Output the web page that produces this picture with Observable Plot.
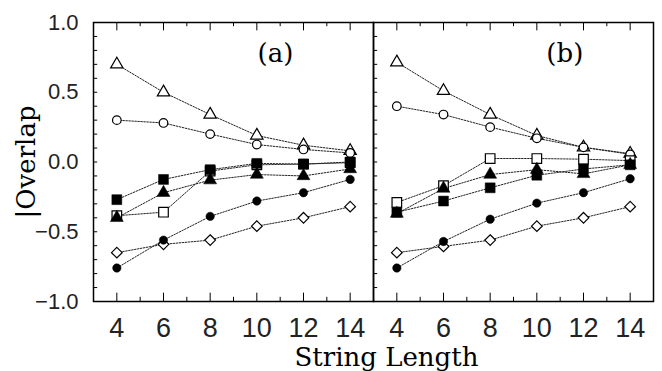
<!DOCTYPE html>
<html>
<head>
<meta charset="utf-8">
<script src="https://cdn.jsdelivr.net/npm/d3@7"></script>
<script src="https://cdn.jsdelivr.net/npm/@observablehq/plot@0.6"></script>
<style>
  html, body { margin: 0; padding: 0; background: #fff; }
  #chart svg { display: block; }
</style>
</head>
<body>
<div id="chart"></div>
<script>
// String lengths (x values)
const lengths = [4, 6, 8, 10, 12, 14];
const panels = ["a", "b"];

// Panel (a)
const a_openTriangle   = [0.70, 0.50, 0.34, 0.19, 0.12, 0.08];
const a_openCircle     = [0.30, 0.28, 0.20, 0.125, 0.09, 0.065];
const a_filledSquare   = [-0.27, -0.125, -0.055, -0.01, -0.015, 0.0];
const a_filledTriangle = [-0.40, -0.22, -0.13, -0.09, -0.10, -0.05];
const a_openSquare     = [-0.385, -0.36, -0.065, -0.02, -0.015, -0.005];
const a_filledCircle   = [-0.76, -0.56, -0.39, -0.28, -0.22, -0.125];
const a_openDiamond    = [-0.65, -0.59, -0.56, -0.46, -0.40, -0.32];

// Panel (b)
const b_openTriangle   = [0.715, 0.51, 0.34, 0.19, 0.105, 0.06];
const b_openCircle     = [0.40, 0.34, 0.25, 0.17, 0.105, 0.055];
const b_openSquare     = [-0.29, -0.17, 0.025, 0.025, 0.02, 0.01];
const b_filledTriangle = [-0.37, -0.19, -0.09, -0.055, -0.085, -0.02];
const b_filledSquare   = [-0.36, -0.28, -0.185, -0.095, -0.05, -0.02];
const b_filledCircle   = [-0.76, -0.57, -0.41, -0.295, -0.22, -0.12];
const b_openDiamond    = [-0.65, -0.605, -0.56, -0.46, -0.40, -0.32];

// Axis ticks
const yTickLabels = [-1, -0.5, 0, 0.5, 1];
const yMinorTicks = d3.range(-9, 10).map(i => i / 10);
const xMajorTicks = [4, 6, 8, 10, 12, 14];
const xMinorTicks = [5, 7, 9, 11, 13];
const panelLabels = ["(a)", "(b)"];

const seriesDefs = [
  {key: "openTriangle",   symbol: "triangle", filled: false, r: 4.6, a: a_openTriangle,   b: b_openTriangle},
  {key: "openCircle",     symbol: "circle",   filled: false, r: 4.3, a: a_openCircle,     b: b_openCircle},
  {key: "openSquare",     symbol: "square",   filled: false, r: 5.4, a: a_openSquare,     b: b_openSquare},
  {key: "openDiamond",    symbol: "diamond2", filled: false, r: 4.8, a: a_openDiamond,    b: b_openDiamond},
  {key: "filledCircle",   symbol: "circle",   filled: true,  r: 4.2, a: a_filledCircle,   b: b_filledCircle},
  {key: "filledSquare",   symbol: "square",   filled: true,  r: 5.6, a: a_filledSquare,   b: b_filledSquare},
  {key: "filledTriangle", symbol: "triangle", filled: true,  r: 4.8, a: a_filledTriangle, b: b_filledTriangle}
];

const rows = [];
for (const s of seriesDefs) {
  for (const p of panels) {
    s[p].forEach((v, i) => rows.push({panel: p, key: s.key, len: lengths[i], val: v}));
  }
}

const marks = [];
// dotted connecting lines
marks.push(Plot.line(rows, {
  x: "len", y: "val", z: d => d.panel + d.key, fx: "panel",
  stroke: "#222", strokeWidth: 1, strokeDasharray: "1.6,1.4"
}));
// markers
for (const s of seriesDefs) {
  marks.push(Plot.dot(rows.filter(d => d.key === s.key), {
    x: "len", y: "val", fx: "panel",
    symbol: s.symbol, r: s.r,
    fill: s.filled ? "black" : "white",
    stroke: "black", strokeWidth: s.filled ? 0.5 : 1.2
  }));
}
// inward ticks
marks.push(Plot.ruleY(yMinorTicks, {y: d => d, x1: 3, x2: 3.18, stroke: "black", strokeWidth: 1}));
marks.push(Plot.ruleX(xMajorTicks, {x: d => d, y1: -1, y2: -0.94, stroke: "black", strokeWidth: 1}));
marks.push(Plot.ruleX(xMinorTicks, {x: d => d, y1: -1, y2: -0.97, stroke: "black", strokeWidth: 1}));
marks.push(Plot.ruleX(xMajorTicks, {x: d => d, y1: 1, y2: 0.94, stroke: "black", strokeWidth: 1}));
marks.push(Plot.ruleX(xMinorTicks, {x: d => d, y1: 1, y2: 0.97, stroke: "black", strokeWidth: 1}));
marks.push(Plot.frame({stroke: "black", strokeWidth: 1.5}));
// axes
marks.push(Plot.axisX({
  ticks: xMajorTicks, tickSize: 0, tickPadding: 16, label: null,
  fontSize: 27, fill: "#222", fontFamily: "Liberation Sans"
}));
marks.push(Plot.axisY({
  anchor: "left", ticks: yTickLabels, tickSize: 0, tickPadding: 15, label: null,
  tickFormat: d3.format(".1f"), fontSize: 22, fill: "#222", fontFamily: "Liberation Sans"
}));
// panel labels
marks.push(Plot.text(panelLabels, {
  fx: (d, i) => panels[i], x: (d, i) => i === 0 ? 10.8 : 11.2, y: 0.78,
  text: d => d, fontSize: 26, fontFamily: "DejaVu Serif", fill: "black"
}));
// axis titles
marks.push(Plot.text(["|Overlap"], {
  fx: () => "a", x: () => 3, y: () => 0, dx: -67, rotate: -90,
  text: d => d, fontSize: 26, fontFamily: "DejaVu Serif", fill: "black",
  style: {letterSpacing: "2px"}
}));
marks.push(Plot.text(["String Length"], {
  fx: () => "a", x: () => 15, y: () => -1, dx: 13, dy: 56,
  text: d => d, fontSize: 26, fontFamily: "DejaVu Serif", fill: "black"
}));

const chart = Plot.plot({
  width: 662, height: 371,
  marginTop: 22, marginBottom: 70, marginLeft: 93, marginRight: 9,
  style: {fontFamily: "Liberation Sans", background: "white"},
  fx: {domain: panels, padding: 0, axis: null, label: null},
  x: {domain: [3, 15]},
  y: {domain: [-1, 1]},
  marks
});
document.getElementById("chart").appendChild(chart);
</script>
</body>
</html>
